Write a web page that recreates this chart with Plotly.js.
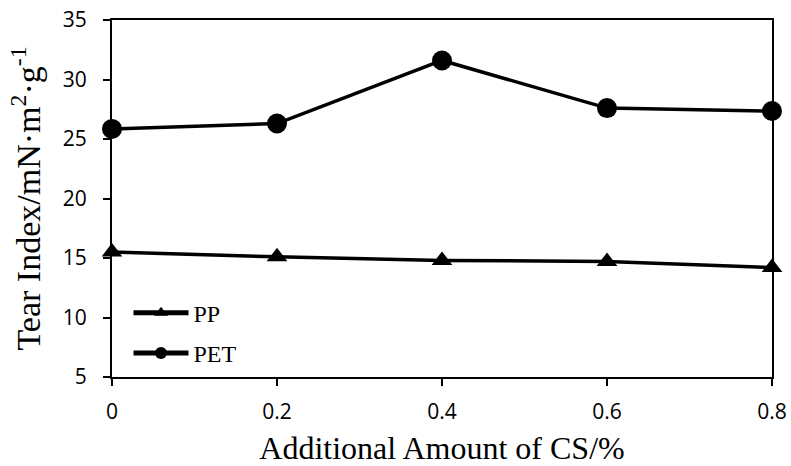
<!DOCTYPE html>
<html><head><meta charset="utf-8">
<script src="https://cdn.plot.ly/plotly-3.0.1.min.js"></script>
<style>body{margin:0;padding:0;background:#fff}</style>
</head><body>
<div id="chart" style="width:791px;height:466px"></div>
<script>
const xVals = [0, 0.2, 0.4, 0.6, 0.8];
const ppVals = [15.5, 15.1, 14.8, 14.7, 14.2];
const petVals = [25.85, 26.3, 31.6, 27.6, 27.35];
const xTicks = [0, 0.2, 0.4, 0.6, 0.8];
const xTickText = ['0', '0.2', '0.4', '0.6', '0.8'];
const yTicks = [5, 10, 15, 20, 25, 30, 35];

const traces = [
  {x: xVals, y: ppVals, name: 'PP', legendgroup: 'a', mode: 'lines+markers', cliponaxis: false,
   line: {color: '#000', width: 3.5}, marker: {symbol: 'triangle-up', size: 18, color: '#000'}},
  {x: xVals, y: petVals, name: 'PET', legendgroup: 'b', mode: 'lines+markers', cliponaxis: false,
   line: {color: '#000', width: 3.5}, marker: {symbol: 'circle', size: 20, color: '#000'}}
];
const layout = {
  width: 791, height: 466,
  margin: {l: 112, r: 19, t: 20, b: 89},
  paper_bgcolor: '#fff', plot_bgcolor: '#fff',
  showlegend: true,
  legend: {x: 0.025, y: 0.242, xanchor: 'left', yanchor: 'top', bgcolor: 'rgba(0,0,0,0)',
    itemsizing: 'constant', itemwidth: 55,
    font: {family: 'Liberation Serif', size: 24, color: '#000'}, tracegroupgap: 6, traceorder: 'grouped'},
  xaxis: {range: [0, 0.8], tickvals: xTicks, ticktext: xTickText, showgrid: false, zeroline: false,
    showline: true, linecolor: '#000', linewidth: 2, mirror: true,
    ticks: 'outside', ticklen: 7, tickwidth: 2, tickcolor: '#000', ticklabelstandoff: 8,
    tickfont: {family: 'Open Sans', size: 21, color: '#000'},
    title: {text: 'Additional Amount of CS/%', font: {family: 'Liberation Serif', size: 32, color: '#000'}, standoff: 14}},
  yaxis: {range: [5, 35], tickvals: yTicks, showgrid: false, zeroline: false,
    showline: true, linecolor: '#000', linewidth: 2, mirror: true,
    ticks: 'outside', ticklen: 7, tickwidth: 2, tickcolor: '#000', ticklabelstandoff: 12,
    tickfont: {family: 'Open Sans', size: 21, color: '#000'},
    title: {text: 'Tear Index/mN·m<sup>2</sup>·g<sup>-1</sup>', font: {family: 'Liberation Serif', size: 34, color: '#000'}, standoff: 12}}
};
Plotly.newPlot('chart', traces, layout, {displayModeBar: false, staticPlot: true});
</script>
</body></html>
